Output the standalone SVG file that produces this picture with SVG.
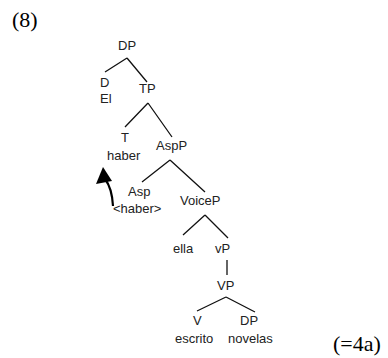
<svg xmlns="http://www.w3.org/2000/svg" width="388" height="358" viewBox="0 0 388 358">
<style>
.n{font-family:"Liberation Sans",Arial,sans-serif;font-size:13px;fill:#222}
.ex{font-family:"Liberation Serif","Times New Roman",serif;font-size:22px;fill:#000}
.e{stroke:#111;stroke-width:1.3;fill:none}
</style>
<defs>
<marker id="ah" markerWidth="10" markerHeight="10" refX="8" refY="5" orient="auto" markerUnits="userSpaceOnUse" viewBox="0 0 10 10">
<path d="M0,0 L10,5 L0,10 Z" fill="#000"/>
</marker>
</defs>
<rect width="388" height="358" fill="#fff"/>
<text class="ex" x="12" y="27">(8)</text>
<text class="ex" x="333" y="351">(=4a)</text>
<g id="connectors">
<path class="e" d="M127,58 L105,72 M127,58 L147,82"/>
<path class="e" d="M148,103 L125,127 M148,103 L172,137"/>
<path class="e" d="M170,160 L142,182 M170,160 L205,192"/>
<path class="e" d="M205,215 L183,235 M205,215 L228,238"/>
<path class="e" d="M227,260 L227,275"/>
<path class="e" d="M226,297 L197,311 M226,297 L255,312"/>
<path d="M113,206 Q112,188 105,179" stroke="#000" stroke-width="2.2" fill="none"/>
<polygon points="103,167 96,184 112,181" fill="#000"/>
</g>
<g id="DP"><text class="n" x="118" y="50">DP</text></g>
<g id="D"><text class="n" x="100" y="87">D</text><text class="n" x="100" y="103">El</text></g>
<g id="TP"><text class="n" x="139" y="93">TP</text></g>
<g id="T"><text class="n" x="121" y="142">T</text><text class="n" x="107" y="160">haber</text></g>
<g id="AspP"><text class="n" x="156" y="150">AspP</text></g>
<g id="Asp"><text class="n" x="128" y="196">Asp</text><text class="n" x="113" y="213">&lt;haber&gt;</text></g>
<g id="VoiceP"><text class="n" x="180" y="205">VoiceP</text></g>
<g id="ella"><text class="n" x="173" y="253">ella</text></g>
<g id="vP"><text class="n" x="215" y="253">vP</text></g>
<g id="VP"><text class="n" x="217" y="290">VP</text></g>
<g id="V"><text class="n" x="193" y="325">V</text><text class="n" x="175" y="343">escrito</text></g>
<g id="DP2"><text class="n" x="240" y="325">DP</text><text class="n" x="228" y="343">novelas</text></g>
</svg>
